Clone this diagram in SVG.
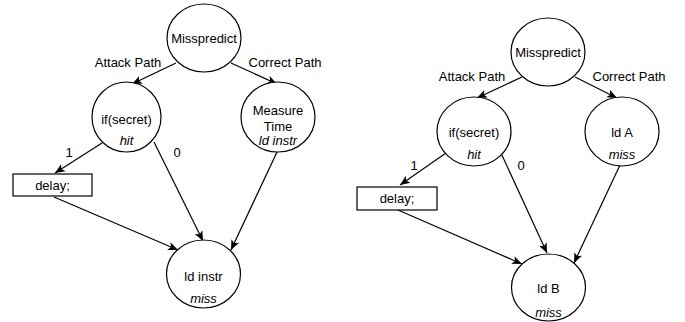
<svg xmlns="http://www.w3.org/2000/svg" width="685" height="322" viewBox="0 0 685 322">
<style>
.n{fill:#fff;stroke:#000;stroke-width:1.2}
.t{font-family:"Liberation Sans",Arial,sans-serif;font-size:13px;fill:#000;text-anchor:middle}
.i{font-style:italic}
.e{stroke:#000;stroke-width:1.2;fill:none;marker-end:url(#a)}
</style>
<defs>
<marker id="a" viewBox="0 0 10 10" refX="10" refY="5" markerWidth="10" markerHeight="10" markerUnits="userSpaceOnUse" orient="auto">
<path d="M0,0.8 L10,5 L0,9.2 L2.5,5 z" fill="#000"/>
</marker>
</defs>
<rect width="685" height="322" fill="#fff"/>
<g id="edges">
<path class="e" d="M176,63 L132,84"/>
<path class="e" d="M231,63 L277,84"/>
<path class="e" d="M102,143 L55,173"/>
<path class="e" d="M154,142 L203,241"/>
<path class="e" d="M277,152 L231,250"/>
<path class="e" d="M54,197 L178,250"/>
<path class="e" d="M522,77 L477,98"/>
<path class="e" d="M575,77 L617,98"/>
<path class="e" d="M446,153 L400,185"/>
<path class="e" d="M501,153 L547,253"/>
<path class="e" d="M620,165 L574,263"/>
<path class="e" d="M398,210 L522,264"/>
</g>
<g id="labels">
<text class="t" x="128" y="67">Attack Path</text>
<text class="t" x="285" y="67">Correct Path</text>
<text class="t" x="69" y="157">1</text>
<text class="t" x="177" y="157">0</text>
<text class="t" x="472" y="81">Attack Path</text>
<text class="t" x="629" y="81">Correct Path</text>
<text class="t" x="414" y="170">1</text>
<text class="t" x="521" y="170">0</text>
</g>
<g id="l-misspredict">
<ellipse class="n" cx="204" cy="38" rx="37" ry="34"/>
<text class="t" x="204" y="43">Misspredict</text>
</g>
<g id="l-if">
<ellipse class="n" cx="126.5" cy="117" rx="34.5" ry="35"/>
<text class="t" x="126.5" y="124">if(secret)</text>
<text class="t i" x="126.5" y="145">hit</text>
</g>
<g id="l-measure">
<ellipse class="n" cx="278" cy="117" rx="37" ry="35"/>
<text class="t" x="278" y="115">Measure</text>
<text class="t" x="278" y="131">Time</text>
<text class="t i" x="278" y="145">ld instr</text>
</g>
<g id="l-delay">
<rect class="n" x="13" y="174" width="79" height="22"/>
<text class="t" x="52.5" y="190">delay;</text>
</g>
<g id="l-ldinstr">
<ellipse class="n" cx="203.5" cy="274" rx="37" ry="34"/>
<text class="t" x="203.5" y="281">ld instr</text>
<text class="t i" x="203.5" y="303">miss</text>
</g>
<g id="r-misspredict">
<ellipse class="n" cx="548" cy="52" rx="37" ry="34"/>
<text class="t" x="548" y="57">Misspredict</text>
</g>
<g id="r-if">
<ellipse class="n" cx="474" cy="131.5" rx="37" ry="34.5"/>
<text class="t" x="474" y="137">if(secret)</text>
<text class="t i" x="474" y="159">hit</text>
</g>
<g id="r-ldA">
<ellipse class="n" cx="622" cy="131.5" rx="37" ry="34.5"/>
<text class="t" x="622" y="137">ld A</text>
<text class="t i" x="622" y="159">miss</text>
</g>
<g id="r-delay">
<rect class="n" x="357" y="187" width="80" height="23"/>
<text class="t" x="397" y="203">delay;</text>
</g>
<g id="r-ldB">
<ellipse class="n" cx="548.5" cy="287.5" rx="37" ry="33.5"/>
<text class="t" x="548.5" y="293">ld B</text>
<text class="t i" x="548.5" y="317">miss</text>
</g>
</svg>
